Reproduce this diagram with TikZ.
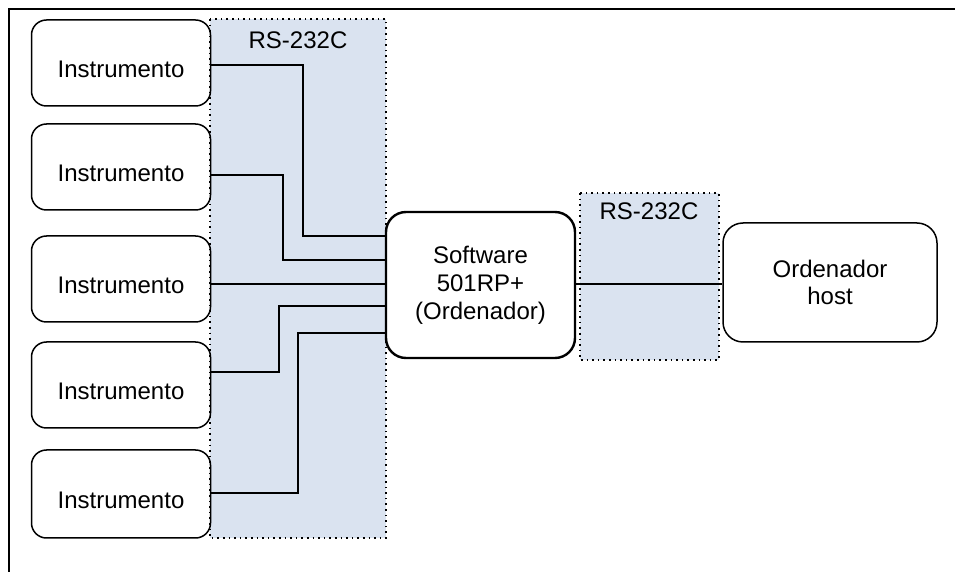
\documentclass[tikz,border=0pt]{standalone}
\usepackage{fontspec}
\setmainfont{Liberation Sans}
\usetikzlibrary{positioning,calc}
\definecolor{portblue}{HTML}{DAE3F0}

\begin{document}
\begin{tikzpicture}[x=0.5pt,y=-0.5pt,
    instbox/.style={draw,line width=0.75pt,rounded corners=7.5pt,minimum width=89.5pt,minimum height=43pt,text height=14.6pt,text depth=0pt,font=\fontsize{12}{14}\selectfont},
    swbox/.style={draw,fill=white,line width=1.2pt,rounded corners=10pt,minimum width=94.5pt,minimum height=73pt,align=center,font=\fontsize{12}{14}\selectfont},
    hostbox/.style={draw,fill=white,line width=0.75pt,rounded corners=10pt,minimum width=107pt,minimum height=59.5pt,align=center,font=\fontsize{12}{13.5}\selectfont},
    port/.style={draw,fill=portblue,dotted,line width=0.8pt},
    wire/.style={line width=0.75pt}]
  \useasboundingbox (0,0) rectangle (955,572);
  % frame
  \draw[line width=0.75pt] (9,572) -- (9,9) -- (955,9);
  % RS-232C areas
  \draw[port] (210,19) rectangle (386,538);
  \node[font=\fontsize{12}{14}\selectfont] (portA) at (298,40) {RS-232C};
  \draw[port] (580,193) rectangle (719,360);
  \node[font=\fontsize{12}{14}\selectfont] (portB) at (649,211) {RS-232C};
  % instruments
  \node[instbox] (I1) at (121,63) {Instrumento};
  \node[instbox] (I2) at (121,167) {Instrumento};
  \node[instbox] (I3) at (121,279) {Instrumento};
  \node[instbox] (I4) at (121,385) {Instrumento};
  \node[instbox,minimum height=44pt] (I5) at (121,494) {Instrumento};
  % computers
  \node[swbox] (Sw) at (480.5,285) {Software\\501RP+\\(Ordenador)};
  \node[hostbox] (Host) at (830,282.5) {Ordenador\\host};
  % wires
  \draw[wire] ([yshift=-1pt]I1.east) -| (303,236) -- (Sw.west |- 0,236);
  \draw[wire] ([yshift=-4pt]I2.east) -| (283,260) -- (Sw.west |- 0,260);
  \draw[wire] ([yshift=-2.5pt]I3.east) -- (Sw.west |- 0,284);
  \draw[wire] ([yshift=6.5pt]I4.east) -| (279,306) -- (Sw.west |- 0,306);
  \draw[wire] ([yshift=0.5pt]I5.east) -| (298,333) -- (Sw.west |- 0,333);
  \draw[wire] (Sw.east |- 0,284) -- (Host.west |- 0,284);
\end{tikzpicture}
\end{document}
